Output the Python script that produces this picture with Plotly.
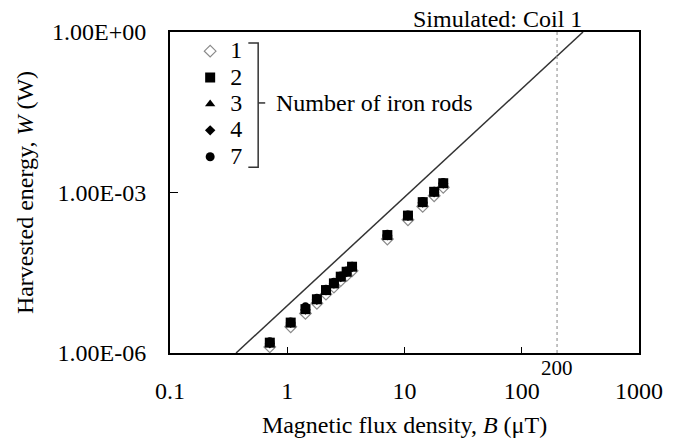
import math
import plotly.graph_objects as go

# Data
B = [0.71, 1.07, 1.43, 1.79, 2.14, 2.50, 2.86, 3.21, 3.57, 7.14, 10.7, 14.3, 17.9, 21.4]
W_1 = [1.30e-6, 3.10e-6, 5.5e-6, 8.5e-6, 1.26e-5, 1.70e-5, 2.25e-5, 2.80e-5, 3.45e-5, 1.35e-4, 3.10e-4, 5.5e-4, 8.7e-4, 1.25e-3]
W_2 = [1.56e-6, 3.70e-6, 6.6e-6, 1.01e-5, 1.50e-5, 2.00e-5, 2.67e-5, 3.30e-5, 4.10e-5, 1.60e-4, 3.70e-4, 6.6e-4, 1.03e-3, 1.49e-3]
W_3 = [1.58e-6, 3.75e-6, 6.8e-6, 1.03e-5, 1.52e-5, 2.05e-5, 2.70e-5, 3.35e-5, 4.15e-5, 1.62e-4, 3.75e-4, 6.7e-4, 1.05e-3, 1.51e-3]
W_4 = [1.52e-6, 3.65e-6, 6.5e-6, 9.9e-6, 1.48e-5, 1.98e-5, 2.62e-5, 3.25e-5, 4.05e-5, 1.58e-4, 3.65e-4, 6.5e-4, 1.01e-3, 1.47e-3]
W_7 = [1.62e-6, 3.80e-6, 7.3e-6, 1.05e-5, 1.55e-5, 2.10e-5, 2.75e-5, 3.40e-5, 4.20e-5, 1.65e-4, 3.80e-4, 6.8e-4, 1.06e-3, 1.53e-3]

sim_B = [0.366, 333.0]
sim_W = [1.0e-6, 1.0]
limit_B = 200

x_ticks = [0.1, 1, 10, 100, 1000]
x_ticktext = ["0.1", "1", "10", "100", "1000"]
y_ticks = [1e-6, 1e-3, 1e0]
y_ticktext = ["1.00E-06", "1.00E-03", "1.00E+00"]

FONT = "Liberation Serif"

series = [
    ("1", W_1, dict(symbol="diamond-open", size=9, color="#8a8a8a", line=dict(color="#8a8a8a", width=1.2))),
    ("2", W_2, dict(symbol="square", size=10, color="black")),
    ("3", W_3, dict(symbol="triangle-up", size=9, color="black")),
    ("4", W_4, dict(symbol="diamond", size=8, color="black")),
    ("7", W_7, dict(symbol="circle", size=9, color="black")),
]

fig = go.Figure()
fig.add_trace(go.Scatter(x=sim_B, y=sim_W, mode="lines",
                         line=dict(color="#333333", width=1.5),
                         showlegend=False, cliponaxis=True))
for name, w, mk in series:
    fig.add_trace(go.Scatter(
        x=B, y=w, mode="markers", marker=mk,
        name="<span style='font-size:24px'>" + name + "</span>",
        cliponaxis=False))

fig.add_shape(type="line", xref="x", yref="paper", x0=limit_B, x1=limit_B, y0=0, y1=1,
              line=dict(color="#9a9a9a", width=1.2, dash="dot"))

# bracket
fig.add_shape(type="path", xref="paper", yref="paper",
              path="M 0.167,0.966 L 0.188,0.966 L 0.188,0.579 L 0.167,0.579",
              line=dict(color="#333333", width=1.5))
fig.add_shape(type="line", xref="paper", yref="paper",
              x0=0.188, x1=0.203, y0=0.779, y1=0.779,
              line=dict(color="#333333", width=1.5))

fig.add_annotation(text="Number of iron rods", xref="paper", yref="paper",
                   x=0.222, y=0.779, xanchor="left", yanchor="middle",
                   showarrow=False, font=dict(size=24, family=FONT, color="black"))
fig.add_annotation(text="Simulated: Coil 1", xref="paper", yref="paper",
                   x=0.699, y=1, xanchor="center", yanchor="bottom", yshift=-2,
                   showarrow=False, font=dict(size=24, family=FONT, color="black"))
fig.add_annotation(text=str(limit_B), xref="x", yref="paper",
                   x=math.log10(limit_B), y=0, xanchor="center", yanchor="middle",
                   yshift=-15, showarrow=False, font=dict(size=21, family=FONT, color="black"))

axis_common = dict(showgrid=False, zeroline=False, showline=True, linecolor="black",
                   linewidth=2, mirror=True, ticks="inside", tickcolor="black",
                   automargin=False,
                   tickfont=dict(size=24, family=FONT, color="black"))

fig.update_xaxes(type="log", range=[-1, 3], tickvals=x_ticks, ticktext=x_ticktext,
                 ticklen=6, ticklabelstandoff=15,
                 title=dict(text="Magnetic flux density, <i>B</i> (μT)", standoff=25,
                            font=dict(size=24, family=FONT, color="black")),
                 **axis_common)
fig.update_yaxes(type="log", range=[-6, 0], tickvals=y_ticks, ticktext=y_ticktext,
                 ticklen=8, ticklabelstandoff=17,
                 title=dict(text="Harvested energy, <i>W</i> (W)", standoff=12,
                            font=dict(size=24, family=FONT, color="black")),
                 **axis_common)

fig.update_layout(
    width=683, height=438,
    margin=dict(l=170, r=44, t=32, b=85),
    paper_bgcolor="white", plot_bgcolor="white",
    font=dict(family=FONT, size=24, color="black"),
    legend=dict(x=0.043, y=0.997, xanchor="left", yanchor="top",
                bgcolor="rgba(0,0,0,0)", font=dict(size=18, family=FONT),
                itemsizing="trace", tracegroupgap=0),
    showlegend=True,
)

fig.write_html("out.html", config={"displayModeBar": False},
               post_script="document.body.style.margin='0';")
